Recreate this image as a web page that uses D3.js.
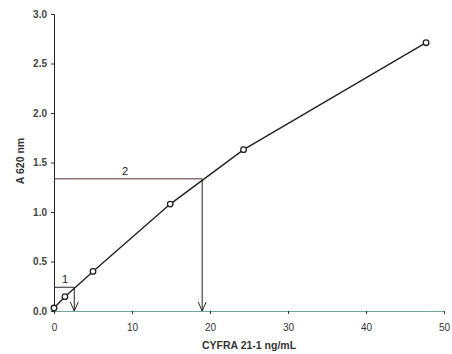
<!DOCTYPE html>
<html><head><meta charset="utf-8">
<script src="https://cdn.jsdelivr.net/npm/d3@7/dist/d3.min.js"></script>
<style>body{margin:0;background:#fff;} text{font-family:"Liberation Sans",Arial,sans-serif;}</style>
</head><body><svg id="c" width="452" height="354"></svg>
<script>
const xVals = [0, 1.4, 5.0, 14.9, 24.3, 47.7];
const yVals = [0.03, 0.145, 0.40, 1.08, 1.63, 2.71];
const xTicks = [0, 10, 20, 30, 40, 50];
const yTicks = [0.0, 0.5, 1.0, 1.5, 2.0, 2.5, 3.0];
const annoLabels = ["1", "2"];
const annoY = [0.24, 1.335];
const annoX = [2.6, 19.0];

const svg = d3.select("#c");
const x = d3.scaleLinear().domain([0, 50]).range([54, 444]);
const y = d3.scaleLinear().domain([0, 3]).range([311, 14]);

const xAxis = svg.append("g").attr("transform", `translate(0,${y(0)})`)
  .call(d3.axisBottom(x).tickValues(xTicks).tickFormat(d3.format("d")).tickSize(3).tickPadding(10));
xAxis.select(".domain").attr("stroke", "#6fa89a");
xAxis.selectAll(".tick line").attr("stroke", "#333");
xAxis.selectAll("text").attr("font-size", 10).attr("fill", "#333");

const yAxis = svg.append("g").attr("transform", `translate(${x(0)},0)`)
  .call(d3.axisLeft(y).tickValues(yTicks).tickFormat(d3.format(".1f")).tickSize(3).tickPadding(4));
yAxis.select(".domain").attr("stroke", "#222");
yAxis.selectAll(".tick line").attr("stroke", "#333");
yAxis.selectAll("text").attr("font-size", 10).attr("font-weight", "bold").attr("fill", "#444");

svg.append("text").attr("x", 249).attr("y", 349).attr("text-anchor", "middle")
  .attr("font-size", 10.5).attr("font-weight", "bold").attr("fill", "#333").text("CYFRA 21-1 ng/mL");
svg.append("text").attr("transform", "translate(24,161) rotate(-90)").attr("text-anchor", "middle")
  .attr("font-size", 10.5).attr("font-weight", "bold").attr("fill", "#333").text("A 620 nm");

// annotations
annoLabels.forEach((lab, i) => {
  const yy = y(annoY[i]), xx = x(annoX[i]);
  svg.append("line").attr("x1", x(0)).attr("x2", xx).attr("y1", yy).attr("y2", yy)
    .attr("stroke", i === 1 ? "#5a2a2a" : "#222").attr("stroke-width", 1);
  svg.append("line").attr("x1", xx).attr("x2", xx).attr("y1", yy).attr("y2", y(0))
    .attr("stroke", "#222").attr("stroke-width", 1);
  svg.append("path").attr("d", `M${xx-4},${y(0)-9} L${xx},${y(0)} L${xx+4},${y(0)-9}`)
    .attr("fill", "none").attr("stroke", "#222").attr("stroke-width", 1);
  svg.append("text").attr("x", (x(0) + xx) / 2 + (i === 0 ? 1 : -3)).attr("y", yy - 4)
    .attr("text-anchor", "middle").attr("font-size", 11).attr("fill", "#222").text(lab);
});

const pts = xVals.map((v, i) => [v, yVals[i]]);
svg.append("path").datum(pts)
  .attr("d", d3.line().x(d => x(d[0])).y(d => y(d[1])))
  .attr("fill", "none").attr("stroke", "#222").attr("stroke-width", 1.4);
svg.selectAll("circle").data(pts).join("circle")
  .attr("cx", d => x(d[0])).attr("cy", d => y(d[1])).attr("r", 2.8)
  .attr("fill", "#fff").attr("stroke", "#222").attr("stroke-width", 1.3);
</script></body></html>
